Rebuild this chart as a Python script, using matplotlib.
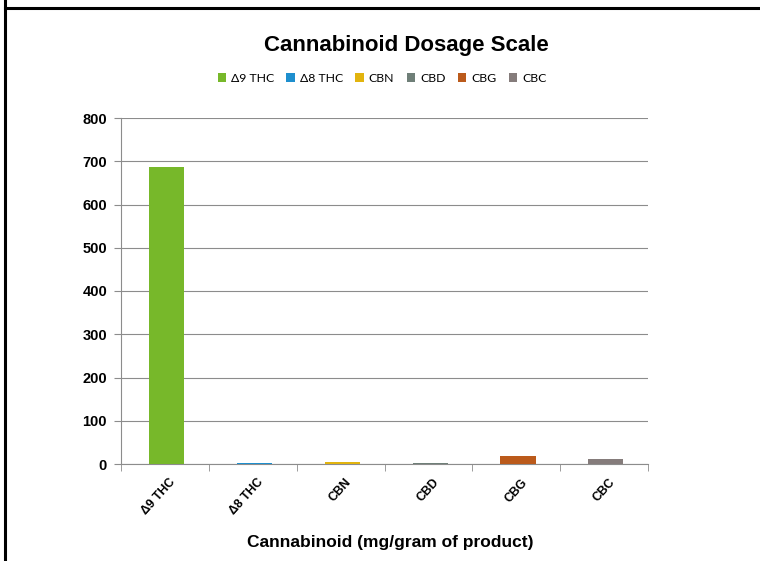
import matplotlib.pyplot as plt
from matplotlib.lines import Line2D

# data
cannabinoids = ['Δ9 THC', 'Δ8 THC', 'CBN', 'CBD', 'CBG', 'CBC']
dosage = [687, 2, 5, 2, 19, 12]
colors = ['#77B82A', '#1E8FCE', '#E2B40E', '#6F7F78', '#BB5A1B', '#857C7B']
y_ticks = [0, 100, 200, 300, 400, 500, 600, 700, 800]

plt.rcParams['font.family'] = ['Liberation Sans', 'DejaVu Sans']

fig = plt.figure(figsize=(7.6, 5.61), dpi=100)
ax = fig.add_axes([121 / 760, 97 / 561, 527 / 760, 346 / 561])

for i, (name, val, c) in enumerate(zip(cannabinoids, dosage, colors)):
    ax.bar(i + 0.02, val, width=0.4, color=c, label=name, zorder=3)

ax.set_xlim(-0.5, len(cannabinoids) - 0.5)
ax.set_ylim(0, 800)
ax.set_yticks(y_ticks)
ax.set_yticklabels([str(t) for t in y_ticks], fontsize=10.5, fontweight='bold')
ax.yaxis.grid(True, color='#8C8C8C', linewidth=0.8, zorder=0)

ax.set_xticks([i + 0.05 for i in range(len(cannabinoids))])
ax.set_xticklabels(cannabinoids, rotation=48, ha='right', rotation_mode='anchor',
                   fontsize=8.8, fontweight='bold')
ax.tick_params(axis='x', length=0, pad=9)
ax.set_xticks([i - 0.5 for i in range(len(cannabinoids) + 1)], minor=True)
ax.tick_params(axis='x', which='minor', length=5, color='#8C8C8C')
ax.tick_params(axis='y', length=5, color='#8C8C8C', pad=5)

for s in ['top', 'right']:
    ax.spines[s].set_visible(False)
for s in ['left', 'bottom']:
    ax.spines[s].set_color('#8C8C8C')

fig.text(406 / 760, 1 - 45 / 561, 'Cannabinoid Dosage Scale', ha='center', va='center',
         fontsize=16, fontweight='bold')
fig.text(390 / 760, 1 - 543 / 561, 'Cannabinoid (mg/gram of product)', ha='center', va='center',
         fontsize=12.5, fontweight='bold')

leg = fig.legend(loc='center', bbox_to_anchor=(382 / 760, 1 - 78 / 561), ncol=6, frameon=False,
                 handlelength=0.7, handleheight=0.7, handletextpad=0.4, columnspacing=1.0,
                 prop={'family': ['Lato', 'DejaVu Sans'], 'size': 8.8})

# border lines of the original frame
fig.add_artist(Line2D([5 / 760, 5 / 760], [0, 1], color='black', linewidth=2.2,
                      transform=fig.transFigure))
fig.add_artist(Line2D([5 / 760, 1], [1 - 8 / 561, 1 - 8 / 561], color='black', linewidth=2.2,
                      transform=fig.transFigure))

fig.savefig('out.png', dpi=100)
